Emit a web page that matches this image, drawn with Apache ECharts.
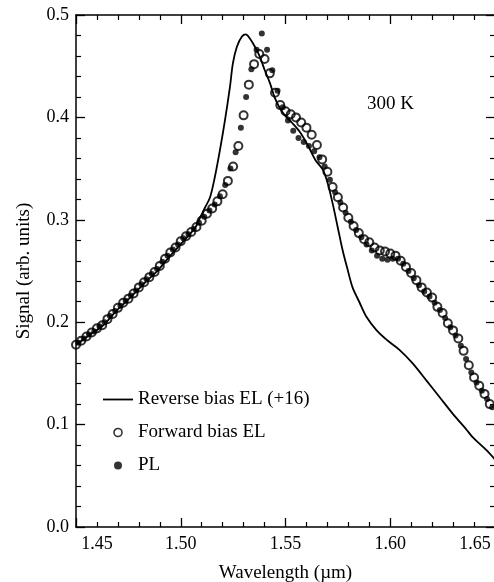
<!DOCTYPE html>
<html>
<head>
<meta charset="utf-8">
<script src="https://cdn.jsdelivr.net/npm/echarts@6/dist/echarts.min.js"></script>
<style>
  html, body { margin: 0; padding: 0; background: #fff; }
  #chart { width: 494px; height: 582px; }
</style>
</head>
<body>
<div id="chart"></div>
<script>
// Wavelength ticks (µm) and signal ticks
const xTicks = [1.45, 1.50, 1.55, 1.60, 1.65];
const yTicks = [0.0, 0.1, 0.2, 0.3, 0.4, 0.5];

// Reverse bias electroluminescence, scaled by 1/16
const reverseWl = [1.4500, 1.4568, 1.4630, 1.4697, 1.4759, 1.4821, 1.4888, 1.4950, 1.5012, 1.5068,
  1.5092, 1.5116, 1.5140, 1.5163, 1.5187, 1.5211, 1.5235, 1.5249, 1.5268, 1.5292,
  1.5311, 1.5330, 1.5354, 1.5378, 1.5401, 1.5425, 1.5449, 1.5473, 1.5497, 1.5530,
  1.5568, 1.5606, 1.5644, 1.5678, 1.5701, 1.5725, 1.5749, 1.5773, 1.5797, 1.5820,
  1.5854, 1.5887, 1.5935, 1.5982, 1.6044, 1.6106, 1.6173, 1.6235, 1.6297, 1.6364,
  1.6392, 1.6459, 1.6500];
const reverseSig = [0.178, 0.188, 0.197, 0.212, 0.224, 0.237, 0.250, 0.265, 0.279, 0.292,
  0.302, 0.312, 0.322, 0.342, 0.368, 0.397, 0.430, 0.453, 0.469, 0.479,
  0.481, 0.477, 0.469, 0.459, 0.446, 0.434, 0.419, 0.409, 0.402, 0.395,
  0.386, 0.373, 0.358, 0.349, 0.336, 0.316, 0.293, 0.270, 0.251, 0.234,
  0.219, 0.205, 0.192, 0.183, 0.173, 0.160, 0.143, 0.127, 0.111, 0.095,
  0.088, 0.075, 0.066];

// Forward bias electroluminescence
const forwardWl = [1.4500, 1.4525, 1.4550, 1.4575, 1.4600, 1.4625, 1.4650, 1.4675, 1.4700, 1.4725,
  1.4750, 1.4775, 1.4800, 1.4825, 1.4850, 1.4875, 1.4900, 1.4925, 1.4950, 1.4975,
  1.5000, 1.5025, 1.5050, 1.5075, 1.5100, 1.5125, 1.5150, 1.5175, 1.5200, 1.5225,
  1.5250, 1.5275, 1.5300, 1.5325, 1.5350, 1.5375, 1.5400, 1.5425, 1.5450, 1.5475,
  1.5500, 1.5525, 1.5550, 1.5575, 1.5600, 1.5625, 1.5650, 1.5675, 1.5700, 1.5725,
  1.5750, 1.5775, 1.5800, 1.5825, 1.5850, 1.5875, 1.5900, 1.5925, 1.5950, 1.5975,
  1.6000, 1.6025, 1.6050, 1.6075, 1.6100, 1.6125, 1.6150, 1.6175, 1.6200, 1.6225,
  1.6250, 1.6275, 1.6300, 1.6325, 1.6350, 1.6375, 1.6400, 1.6425, 1.6450, 1.6475];
const forwardSig = [0.178, 0.182, 0.186, 0.190, 0.194, 0.197, 0.203, 0.208, 0.214, 0.219,
  0.223, 0.228, 0.234, 0.239, 0.244, 0.249, 0.255, 0.262, 0.268, 0.273,
  0.279, 0.284, 0.288, 0.293, 0.299, 0.306, 0.311, 0.318, 0.325, 0.338,
  0.352, 0.372, 0.402, 0.432, 0.452, 0.462, 0.457, 0.443, 0.424, 0.412,
  0.406, 0.403, 0.400, 0.395, 0.390, 0.383, 0.373, 0.359, 0.347, 0.332,
  0.322, 0.312, 0.302, 0.294, 0.287, 0.281, 0.278, 0.273, 0.270, 0.269,
  0.267, 0.265, 0.260, 0.254, 0.248, 0.241, 0.234, 0.229, 0.224, 0.215,
  0.209, 0.199, 0.192, 0.184, 0.172, 0.158, 0.146, 0.138, 0.130, 0.120];

// Photoluminescence
const plWl = [1.4512, 1.4537, 1.4562, 1.4587, 1.4612, 1.4637, 1.4662, 1.4687, 1.4712, 1.4737,
  1.4762, 1.4787, 1.4812, 1.4837, 1.4862, 1.4887, 1.4912, 1.4937, 1.4962, 1.4987,
  1.5012, 1.5037, 1.5062, 1.5087, 1.5112, 1.5137, 1.5162, 1.5187, 1.5212, 1.5237,
  1.5262, 1.5287, 1.5312, 1.5337, 1.5362, 1.5387, 1.5412, 1.5437, 1.5462, 1.5487,
  1.5512, 1.5537, 1.5562, 1.5587, 1.5612, 1.5637, 1.5662, 1.5687, 1.5712, 1.5737,
  1.5762, 1.5787, 1.5812, 1.5837, 1.5862, 1.5887, 1.5912, 1.5937, 1.5962, 1.5987,
  1.6012, 1.6037, 1.6062, 1.6087, 1.6112, 1.6137, 1.6162, 1.6187, 1.6212, 1.6237,
  1.6262, 1.6287, 1.6312, 1.6337, 1.6362, 1.6387, 1.6412, 1.6437, 1.6462, 1.6487];
const plSig = [0.180, 0.184, 0.188, 0.191, 0.196, 0.200, 0.206, 0.211, 0.216, 0.221,
  0.226, 0.231, 0.237, 0.242, 0.247, 0.252, 0.259, 0.265, 0.271, 0.276,
  0.282, 0.286, 0.291, 0.297, 0.303, 0.309, 0.315, 0.323, 0.334, 0.350,
  0.366, 0.390, 0.420, 0.447, 0.466, 0.482, 0.466, 0.446, 0.426, 0.410,
  0.397, 0.387, 0.380, 0.376, 0.372, 0.367, 0.361, 0.352, 0.339, 0.327,
  0.317, 0.307, 0.298, 0.290, 0.283, 0.276, 0.270, 0.265, 0.262, 0.261,
  0.262, 0.262, 0.257, 0.250, 0.243, 0.236, 0.230, 0.225, 0.219, 0.212,
  0.204, 0.195, 0.187, 0.177, 0.164, 0.151, 0.141, 0.133, 0.125, 0.117];

const seriesNames = ['Reverse bias EL (+16)', 'Forward bias EL', 'PL'];
const tempLabel = '300 K';
const xName = 'Wavelength (\u00b5m)';
const yName = 'Signal (arb. units)';

const pair = (xs, ys) => xs.map((x, i) => [x, ys[i]]);
const FONT = 'Liberation Serif';
const INK = '#000';

const frameAxis = {
  axisLine: { show: true, onZero: false, lineStyle: { color: INK, width: 1.5 } },
  axisTick: { show: true, inside: true, length: 9, lineStyle: { color: INK, width: 1.3 } },
  minorTick: { show: true, splitNumber: 5, length: 5, lineStyle: { color: INK, width: 1.2 } },
  splitLine: { show: false },
  minorSplitLine: { show: false }
};

const xMin = xTicks[0], xMax = xTicks[xTicks.length - 1];
const yMin = yTicks[0], yMax = yTicks[yTicks.length - 1];

const chart = echarts.init(document.getElementById('chart'), null, { renderer: 'canvas' });
chart.setOption({
  animation: false,
  backgroundColor: '#fff',
  textStyle: { fontFamily: FONT, color: INK },
  grid: { left: 76, top: 15, right: -1, bottom: 55, containLabel: false, outerBoundsMode: 'none' },
  title: {
    text: tempLabel, left: 362, top: 90,
    textStyle: { fontFamily: FONT, fontSize: 19, fontWeight: 'normal', color: INK }
  },
  legend: {
    orient: 'vertical', left: 98, top: 385, itemGap: 14,
    itemWidth: 30, itemHeight: 8,
    textStyle: { fontFamily: FONT, fontSize: 19, color: INK },
    data: [
      { name: seriesNames[0], icon: 'path://M0,0L30,0L30,1.8L0,1.8Z', itemStyle: { color: INK, borderWidth: 0 } },
      { name: seriesNames[1], icon: 'circle', itemStyle: { color: 'rgba(0,0,0,0)', borderColor: INK, borderWidth: 1.6 } },
      { name: seriesNames[2], icon: 'circle', itemStyle: { color: INK, borderWidth: 0 } }
    ]
  },
  xAxis: [
    Object.assign({}, frameAxis, {
      type: 'value', position: 'bottom', min: xMin, max: xMax, interval: 0.05,
      name: xName, nameLocation: 'middle', nameGap: 37,
      nameTextStyle: { fontFamily: FONT, fontSize: 19, color: INK },
      axisLabel: {
        show: true, margin: 8, showMinLabel: true, showMaxLabel: true,
        fontFamily: FONT, fontSize: 18, color: INK,
        formatter: v => {
          const s = v.toFixed(2);
          if (Math.abs(v - xMin) < 1e-6) return '{first|' + s + '}';
          if (Math.abs(v - xMax) < 1e-6) return '{last|' + s + '}';
          return s;
        },
        rich: {
          first: { fontFamily: FONT, fontSize: 18, color: INK, padding: [0, 0, 0, 42] },
          last: { fontFamily: FONT, fontSize: 18, color: INK, padding: [0, 40, 0, 0] }
        }
      }
    }),
    Object.assign({}, frameAxis, {
      type: 'value', position: 'top', min: xMin, max: xMax, interval: 0.05,
      axisLabel: { show: false }
    })
  ],
  yAxis: [
    Object.assign({}, frameAxis, {
      type: 'value', position: 'left', min: yMin, max: yMax, interval: 0.1,
      name: yName, nameLocation: 'middle', nameGap: 42, nameRotate: 90,
      nameTextStyle: { fontFamily: FONT, fontSize: 19, color: INK },
      axisLabel: {
        show: true, margin: 7, fontFamily: FONT, fontSize: 18, color: INK,
        formatter: v => v.toFixed(1)
      }
    }),
    Object.assign({}, frameAxis, {
      type: 'value', position: 'right', min: yMin, max: yMax, interval: 0.1,
      axisLabel: { show: false }
    })
  ],
  series: [
    {
      name: seriesNames[0], type: 'line', xAxisIndex: 0, yAxisIndex: 0,
      data: pair(reverseWl, reverseSig),
      symbol: 'none', showSymbol: false, smooth: 0.3,
      lineStyle: { color: INK, width: 1.8 },
      itemStyle: { color: INK },
      z: 2
    },
    {
      name: seriesNames[1], type: 'scatter', xAxisIndex: 0, yAxisIndex: 0,
      data: pair(forwardWl, forwardSig),
      symbol: 'circle', symbolSize: 8,
      itemStyle: { color: 'rgba(0,0,0,0)', borderColor: INK, borderWidth: 2 },
      z: 3
    },
    {
      name: seriesNames[2], type: 'scatter', xAxisIndex: 0, yAxisIndex: 0,
      data: pair(plWl, plSig),
      symbol: 'circle', symbolSize: 6,
      itemStyle: { color: INK },
      z: 4
    }
  ]
});
</script>
</body>
</html>
